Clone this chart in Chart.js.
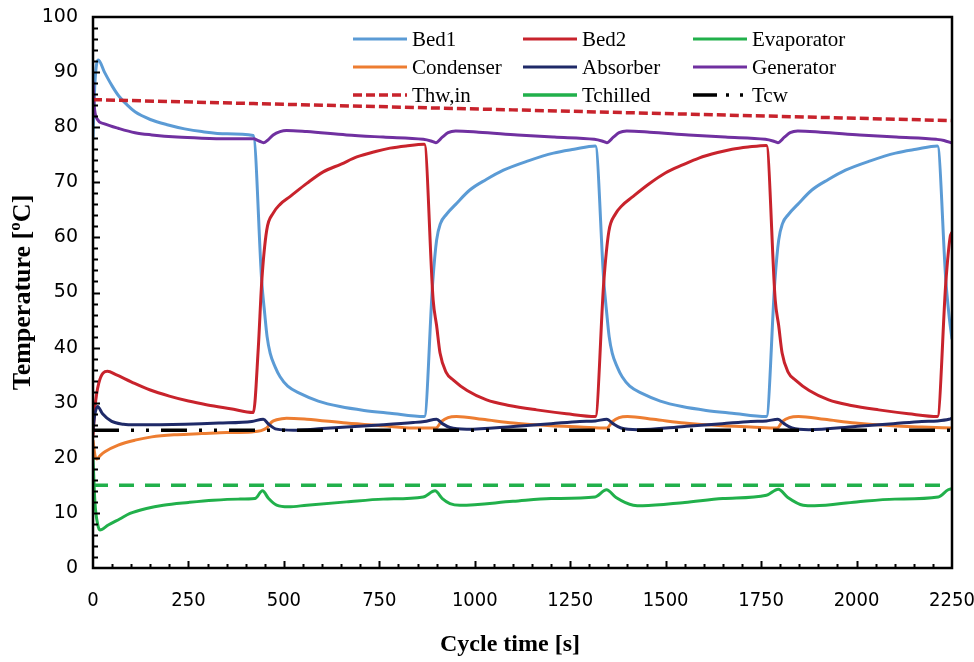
<!DOCTYPE html>
<html>
<head>
<meta charset="utf-8">
<script src="https://cdn.jsdelivr.net/npm/chart.js@4.4.1/dist/chart.umd.min.js"></script>
<style>
  html, body { margin: 0; padding: 0; background: #fff; }
</style>
</head>
<body>
<canvas id="chartCycle" width="974" height="662"></canvas>
<script>
// Valeurs : [temps (s), température (°C)]
const bed1 = [[0,78],[5,88],[14,92.2],[30,90],[50,87.5],[66,85.8],[90,84],[110,82.8],[150,81.4],[197,80.4],[240,79.7],[285,79.2],[350,78.8],[420,78.5],
  [442,52],[450,46],[456,42],[464,39],[477,36.5],[490,34.7],[510,33],[542,31.7],[590,30.3],[647,29.3],[710,28.6],[778,28.1],[868,27.5],
  [890,52],[900,59.5],[910,62.5],[926,64.2],[950,66],[987,68.6],[1030,70.5],[1075,72.2],[1140,73.9],[1206,75.3],[1260,76],[1316,76.6],
  [1338,52],[1346,46],[1352,42],[1360,39],[1373,36.5],[1386,34.7],[1406,33],[1438,31.7],[1486,30.3],[1543,29.3],[1606,28.6],[1674,28.1],[1764,27.5],
  [1786,52],[1796,59.5],[1806,62.5],[1822,64.2],[1846,66],[1883,68.6],[1926,70.5],[1971,72.2],[2036,73.9],[2102,75.3],[2156,76],[2212,76.6],
  [2234,52],[2242,46],[2250,41.5]];

const bed2 = [[0,24],[5,29],[15,33.5],[38,35.7],[60,35.1],[100,33.8],[150,32.3],[200,31.2],[250,30.3],[300,29.6],[360,28.9],[420,28.2],
  [433,40],[442,52],[455,61.3],[472,64.4],[490,66],[516,67.4],[560,69.8],[603,71.9],[650,73.3],[691,74.6],[740,75.6],[778,76.2],[820,76.6],[868,76.9],
  [891,48.6],[900,44],[909,39],[925,35.5],[944,34.1],[980,32.2],[1031,30.5],[1090,29.5],[1162,28.7],[1240,28],[1316,27.5],
  [1338,52],[1351,61],[1368,64.2],[1386,65.8],[1412,67.3],[1456,69.7],[1499,71.7],[1546,73.2],[1587,74.4],[1636,75.4],[1674,76],[1716,76.4],[1764,76.7],
  [1787,48.6],[1796,44],[1805,39],[1821,35.5],[1840,34.1],[1876,32.2],[1927,30.5],[1986,29.5],[2058,28.7],[2136,28],[2212,27.5],
  [2234,52],[2245,60],[2250,61]];

const evaporator = [[0,20],[5,12],[12,8],[18,6.9],[40,7.8],[70,8.9],[97,9.9],[140,10.8],[184,11.4],[250,11.9],[315,12.3],[380,12.5],[424,12.6],
  [444,14],[460,12.6],[481,11.4],[512,11.1],[560,11.4],[664,12],[760,12.5],[865,12.9],
  [896,14],[915,12.6],[935,11.7],[961,11.4],[1100,12.1],[1200,12.6],[1315,12.9],
  [1345,14.2],[1370,12.8],[1415,11.4],[1440,11.3],[1550,11.9],[1650,12.6],[1764,13.2],
  [1795,14.3],[1820,12.8],[1860,11.4],[1890,11.3],[2000,12],[2100,12.5],[2214,12.9],
  [2240,14.2],[2250,14.4]];

const condenser = [[0,23.2],[5,20.5],[10,19.8],[20,20.5],[31,21.1],[66,22.3],[110,23.2],[154,23.8],[220,24.2],[285,24.4],[350,24.6],[416,24.7],
  [455,25.4],[468,26.5],[481,26.9],[507,27.2],[560,27],[664,26.3],[760,25.8],[839,25.4],[898,25.4],
  [913,26.6],[930,27.3],[952,27.5],[1020,27],[1101,26.3],[1200,25.8],[1275,25.6],[1346,25.4],
  [1361,26.6],[1378,27.3],[1400,27.5],[1468,27],[1549,26.3],[1648,25.8],[1723,25.6],[1792,25.4],
  [1806,26.6],[1824,27.3],[1848,27.5],[1916,27],[1997,26.3],[2096,25.8],[2171,25.6],[2250,25.4]];

const absorber = [[0,25],[4,27.5],[12,29.3],[25,28],[49,26.6],[80,26.1],[110,26],[241,26.1],[330,26.3],[416,26.6],
  [446,27],[460,26.1],[481,25.2],[525,25],[600,25.3],[664,25.6],[760,26],[839,26.4],[868,26.6],
  [900,27],[915,26.2],[935,25.5],[979,25.2],[1101,25.7],[1200,26.2],[1275,26.6],[1316,26.7],
  [1346,27],[1362,26.2],[1383,25.4],[1427,25.1],[1549,25.7],[1648,26.2],[1723,26.6],[1764,26.7],
  [1794,27],[1810,26.2],[1831,25.4],[1875,25.1],[1997,25.7],[2096,26.2],[2171,26.6],[2212,26.7],
  [2242,27],[2250,27.2]];

const generator = [[0,88.3],[3,84],[10,81.6],[30,80.6],[66,79.8],[110,79],[154,78.6],[220,78.2],[285,78],[350,77.9],[420,77.9],
  [435,77.5],[447,77.2],[460,77.8],[472,78.6],[490,79.2],[507,79.4],[560,79.2],[664,78.6],[760,78.2],[865,77.8],
  [885,77.5],[898,77.2],[915,78.2],[930,79],[950,79.3],[1010,79.1],[1112,78.6],[1208,78.2],[1313,77.8],
  [1333,77.5],[1346,77.2],[1363,78.2],[1378,79],[1398,79.3],[1458,79.1],[1560,78.6],[1656,78.2],[1761,77.8],
  [1781,77.5],[1794,77.2],[1811,78.2],[1826,79],[1846,79.3],[1906,79.1],[2008,78.6],[2104,78.2],[2209,77.8],
  [2229,77.6],[2250,77.1]];

const thwIn = [[0,85],[1125,83.1],[2250,81.2]];
const tChilled = [[0,15],[2250,15]];
const tCw = [[0,25],[2250,25]];

const xTickValues = [0, 250, 500, 750, 1000, 1250, 1500, 1750, 2000, 2250];
const yTickValues = [0, 10, 20, 30, 40, 50, 60, 70, 80, 90, 100];

// Construction des séries
const toPoints = arr => arr.map(([x, y]) => ({ x, y }));
const series = [
  { label: "Bed1", data: bed1, color: "#5B9BD5" },
  { label: "Bed2", data: bed2, color: "#C8232C" },
  { label: "Evaporator", data: evaporator, color: "#21B04B" },
  { label: "Condenser", data: condenser, color: "#ED7D31" },
  { label: "Absorber", data: absorber, color: "#1F2A68" },
  { label: "Generator", data: generator, color: "#7030A0" },
  { label: "Thw,in", data: thwIn, color: "#C8232C", dash: [9, 4], legendDash: [9, 4], width: 3.5 },
  { label: "Tchilled", data: tChilled, color: "#21B04B", dash: [15, 11], legendDash: [], width: 3.5 },
  { label: "Tcw", data: tCw, color: "#000000", dash: [26, 12, 3, 12, 3, 12], legendDash: [24, 9, 3, 11, 3, 11], width: 3.5 }
];

const datasets = series.map((s, i) => ({
  label: s.label,
  data: toPoints(s.data),
  borderColor: s.color,
  backgroundColor: s.color,
  borderWidth: s.width || 3,
  borderDash: s.dash || [],
  legendDash: s.legendDash || [],
  pointRadius: 0,
  fill: false,
  cubicInterpolationMode: "monotone",
  order: series.length - i
}));

// Cadre, graduations intérieures, titre de l'axe X et légende en grille
const cadrePlugin = {
  id: "cadre",
  afterDraw(chart) {
    const ctx = chart.ctx;
    const a = chart.chartArea;
    const xs = chart.scales.x, ys = chart.scales.y;
    ctx.save();
    ctx.strokeStyle = "#000";
    ctx.lineWidth = 2;
    ctx.beginPath();
    for (let v = 50; v < 2250; v += 50) {
      const px = Math.round(xs.getPixelForValue(v)) + 0.5;
      const len = v % 250 === 0 ? 7 : 4;
      ctx.moveTo(px, a.bottom);
      ctx.lineTo(px, a.bottom - len);
    }
    for (let v = 2; v < 100; v += 2) {
      const py = Math.round(ys.getPixelForValue(v)) + 0.5;
      const len = v % 10 === 0 ? 7 : 5;
      ctx.moveTo(a.left, py);
      ctx.lineTo(a.left + len, py);
    }
    ctx.stroke();
    ctx.lineWidth = 2.5;
    ctx.strokeRect(a.left, a.top, a.right - a.left, a.bottom - a.top);

    ctx.fillStyle = "#000";
    ctx.font = 'bold 24px "Liberation Serif", "Times New Roman", serif';
    ctx.textAlign = "center";
    ctx.textBaseline = "middle";
    ctx.fillText("Cycle time [s]", 510, 645);

    const colX = [353, 523, 693];
    const rowY = [39, 67, 95];
    ctx.textAlign = "left";
    ctx.font = '21px "Liberation Serif", "Times New Roman", serif';
    chart.data.datasets.forEach((ds, i) => {
      const x = colX[i % 3], y = rowY[Math.floor(i / 3)];
      ctx.strokeStyle = ds.borderColor;
      ctx.lineWidth = ds.borderWidth;
      ctx.setLineDash(ds.legendDash);
      ctx.beginPath();
      ctx.moveTo(x, y);
      ctx.lineTo(x + 54, y);
      ctx.stroke();
      ctx.setLineDash([]);
      ctx.fillText(ds.label, x + 59, y + 1);
    });
    ctx.restore();
  }
};

const ctxCycle = document.getElementById("chartCycle").getContext("2d");

const chartCycle = new Chart(ctxCycle, {
  type: "line",
  data: { datasets },
  options: {
    responsive: false,
    animation: false,
    devicePixelRatio: 1,
    layout: { padding: { left: 0, top: 17, right: 22, bottom: 0 } },
    plugins: {
      legend: { display: false },
      tooltip: { enabled: false }
    },
    scales: {
      x: {
        type: "linear",
        min: 0,
        max: 2250,
        afterBuildTicks: s => { s.ticks = xTickValues.map(v => ({ value: v })); },
        afterFit: s => { s.height = 94; s.paddingLeft = 0; s.paddingRight = 0; },
        grid: { display: false, drawTicks: false },
        border: { display: false },
        ticks: {
          padding: 21,
          maxRotation: 0,
          color: "#000",
          font: { family: '"Liberation Sans Narrow", "DejaVu Sans Condensed", sans-serif', size: 20 },
          callback: v => String(v)
        },
        title: { display: false }
      },
      y: {
        min: 0,
        max: 100,
        afterBuildTicks: s => { s.ticks = yTickValues.map(v => ({ value: v })); },
        afterFit: s => { s.width = 93; s.paddingTop = 0; s.paddingBottom = 0; },
        grid: { display: false, drawTicks: false },
        border: { display: false },
        ticks: {
          padding: 15,
          color: "#000",
          font: { family: '"DejaVu Sans", Verdana, sans-serif', size: 19 },
          callback: v => String(v)
        },
        title: {
          display: true,
          text: "Temperature [ºC]",
          color: "#000",
          font: { family: '"Liberation Serif", "Times New Roman", serif', size: 26, weight: "bold" },
          padding: { top: 8, bottom: 0 }
        }
      }
    }
  },
  plugins: [cadrePlugin]
});
</script>
</body>
</html>
